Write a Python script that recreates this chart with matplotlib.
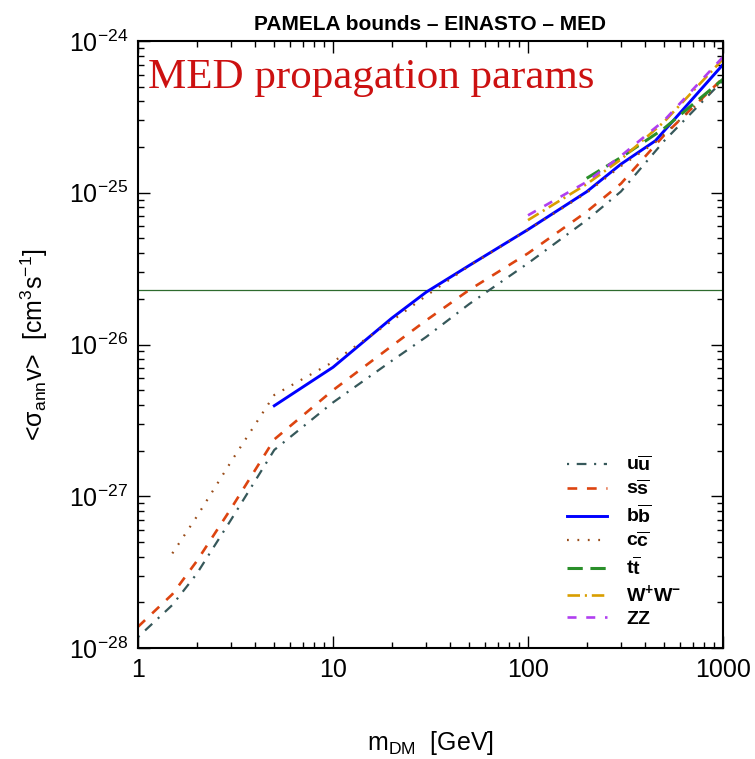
import matplotlib
matplotlib.use("Agg")
import matplotlib.pyplot as plt
from matplotlib.ticker import FixedLocator, FixedFormatter, LogLocator, NullFormatter

plt.rcParams['font.family'] = ['Liberation Sans', 'DejaVu Sans']
plt.rcParams['mathtext.fontset'] = 'custom'
plt.rcParams['mathtext.rm'] = 'Liberation Sans'
plt.rcParams['mathtext.it'] = 'Liberation Sans:italic'
plt.rcParams['mathtext.bf'] = 'Liberation Sans:bold'
plt.rcParams['mathtext.sf'] = 'Liberation Sans'
plt.rcParams['lines.scale_dashes'] = False

# ---------------- data ----------------
m_uu = [1, 1.5, 2, 3, 5, 10, 20, 30, 50, 100, 200, 300, 500, 1000]
s_uu = [1.18e-28, 1.92e-28, 3.08e-28, 7.0e-28, 2.02e-27, 4.15e-27, 7.8e-27,
        1.12e-26, 1.85e-26, 3.43e-26, 6.6e-26, 1.02e-25, 2.2e-25, 5.5e-25]

m_ss = [1, 1.5, 2, 3, 5, 10, 20, 30, 50, 100, 200, 300, 500, 1000]
s_ss = [1.38e-28, 2.26e-28, 3.73e-28, 8.3e-28, 2.37e-27, 5.0e-27, 9.77e-27,
        1.44e-26, 2.29e-26, 3.99e-26, 7.5e-26, 1.15e-25, 2.4e-25, 5.7e-25]

m_bb = [5, 10, 20, 30, 50, 100, 200, 300, 450, 1000]
s_bb = [3.95e-27, 7.08e-27, 1.49e-26, 2.21e-26, 3.32e-26, 5.72e-26,
        1.016e-25, 1.545e-25, 2.2e-25, 7.0e-25]

m_cc = [1.5, 2, 3, 5, 10, 20, 30, 50, 100, 200, 300, 450, 1000]
s_cc = [4.2e-28, 7.33e-28, 1.69e-27, 4.65e-27, 7.67e-27, 1.43e-26, 2.09e-26,
        3.3e-26, 5.7e-26, 1.0e-25, 1.5e-25, 2.15e-25, 5.5e-25]

m_tt = [200, 300, 500, 1000]
s_tt = [1.245e-25, 1.71e-25, 2.66e-25, 5.6e-25]

m_ww = [100, 200, 300, 500, 1000]
s_ww = [6.6e-26, 1.14e-25, 1.66e-25, 2.94e-25, 7.6e-25]

m_zz = [100, 200, 300, 500, 1000]
s_zz = [7.1e-26, 1.18e-25, 1.75e-25, 3.0e-25, 7.85e-25]

thermal = 2.3e-26

labels = [r'$\mathbf{u}\overline{\mathbf{u}}$',
          r'$\mathbf{s}\overline{\mathbf{s}}$',
          r'$\mathbf{b}\overline{\mathbf{b}}$',
          r'$\mathbf{c}\overline{\mathbf{c}}$',
          r'$\mathbf{t}\overline{\mathbf{t}}$',
          r'$\mathbf{W^{+}W^{-}}$',
          r'$\mathbf{ZZ}$']

xticks = [1, 10, 100, 1000]
xticklabels = ['1', '10', '100', '1000']
yticks = [1e-28, 1e-27, 1e-26, 1e-25, 1e-24]
yticklabels = [r'$10^{-28}$', r'$10^{-27}$', r'$10^{-26}$', r'$10^{-25}$', r'$10^{-24}$']

# ---------------- figure ----------------
fig = plt.figure(figsize=(7.55, 7.59), dpi=100)
ax = fig.add_axes([138/755, 1-648/759, 585/755, 607/759])

ax.axhline(thermal, color='#2e6b2e', lw=0.9, zorder=1)

h_uu, = ax.plot(m_uu, s_uu, color='#36585a', lw=1.6, ls=(0, (1.5, 5.5, 7, 5.5)))
h_ss, = ax.plot(m_ss, s_ss, color='#dd4410', lw=1.9, ls=(0, (7, 7)))
h_bb, = ax.plot(m_bb, s_bb, color='#0000ff', lw=2.1, ls='-')
h_cc, = ax.plot(m_cc, s_cc, color='#9a4d1a', lw=1.6, ls=(0, (1.3, 6.2)))
h_tt, = ax.plot(m_tt, s_tt, color='#2a8f2a', lw=2.2, ls=(0, (11, 5.5)))
h_ww, = ax.plot(m_ww, s_ww, color='#d99e00', lw=1.9, ls=(0, (9, 3.5, 1.5, 3.5)))
h_zz, = ax.plot(m_zz, s_zz, color='#b03ff0', lw=1.9, ls=(0, (6.5, 7)))

ax.set_xscale('log')
ax.set_yscale('log')
ax.set_xlim(1, 1000)
ax.set_ylim(1e-28, 1e-24)

ax.xaxis.set_major_locator(FixedLocator(xticks))
ax.xaxis.set_major_formatter(FixedFormatter(xticklabels))
ax.xaxis.set_minor_locator(LogLocator(base=10, subs=range(2, 10), numticks=20))
ax.xaxis.set_minor_formatter(NullFormatter())
ax.yaxis.set_major_locator(FixedLocator(yticks))
ax.yaxis.set_major_formatter(FixedFormatter(yticklabels))
ax.yaxis.set_minor_locator(LogLocator(base=10, subs=range(2, 10), numticks=20))
ax.yaxis.set_minor_formatter(NullFormatter())

ax.tick_params(which='both', direction='in', top=True, right=True, width=1.0)
ax.tick_params(which='major', length=8.5, labelsize=18, pad=7)
ax.tick_params(which='minor', length=4.3)
for sp in ax.spines.values():
    sp.set_linewidth(1.5)

ax.set_title('PAMELA bounds – EINASTO – MED', fontsize=15, fontweight='bold', pad=8)
ax.set_xlabel(r'm$_{\mathrm{DM}}$  [GeV]', fontsize=18, labelpad=34)
ax.set_ylabel(r'<σ$_{\mathrm{ann}}$v>  [cm$^3$s$^{-1}$]', fontsize=18, labelpad=14)

ax.text(0.017, 0.9226, 'MED propagation params', transform=ax.transAxes,
        fontsize=31, color='#cc1111', family='Liberation Serif', va='baseline', ha='left')

ax.legend([h_uu, h_ss, h_bb, h_cc, h_tt, h_ww, h_zz], labels,
          loc='upper left', bbox_to_anchor=(0.7333, 0.318), frameon=False,
          fontsize=14, handlelength=2.05, handletextpad=1.0, labelspacing=0.25,
          borderpad=0, borderaxespad=0)

fig.savefig('out.png', dpi=100)
